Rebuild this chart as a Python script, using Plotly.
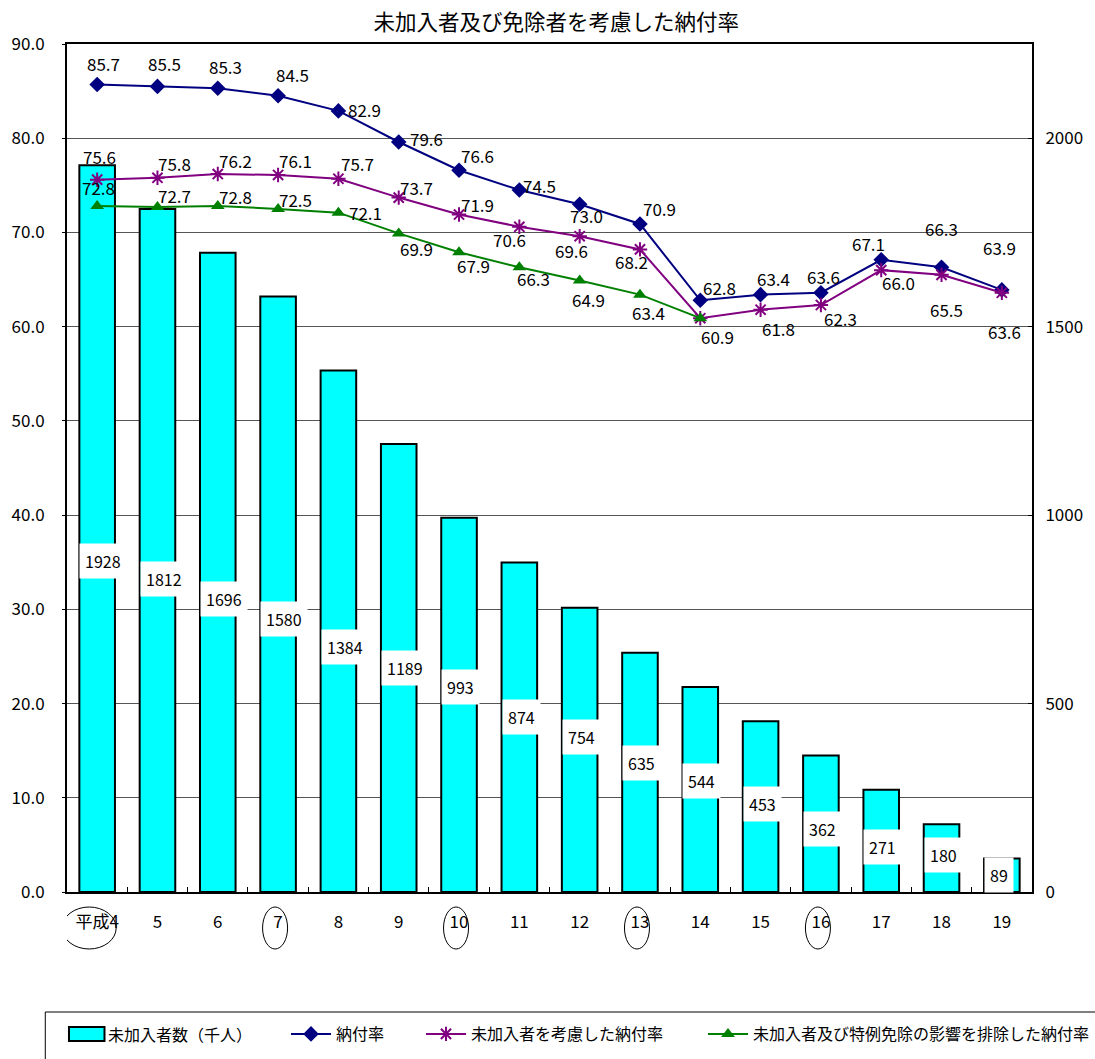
import plotly.graph_objects as go

# 年度（平成）
years = ["平成4", "5", "6", "7", "8", "9", "10", "11", "12", "13", "14", "15", "16", "17", "18", "19"]

# 未加入者数（千人）
unenrolled = [1928, 1812, 1696, 1580, 1384, 1189, 993, 874, 754, 635, 544, 453, 362, 271, 180, 89]

# 納付率
rate = [85.7, 85.5, 85.3, 84.5, 82.9, 79.6, 76.6, 74.5, 73.0, 70.9, 62.8, 63.4, 63.6, 67.1, 66.3, 63.9]

# 未加入者を考慮した納付率
rate_unenrolled = [75.6, 75.8, 76.2, 76.1, 75.7, 73.7, 71.9, 70.6, 69.6, 68.2, 60.9, 61.8, 62.3, 66.0, 65.5, 63.6]

# 未加入者及び特例免除の影響を排除した納付率
rate_excl = [72.8, 72.7, 72.8, 72.5, 72.1, 69.9, 67.9, 66.3, 64.9, 63.4, 60.9,
             None, None, None, None, None]

# 丸で囲む年度
circled = ["平成4", "7", "10", "13", "16"]

BAR_NAME = "未加入者数（千人）"

FONT = "Noto Sans CJK JP, sans-serif"

NAVY = "#000080"
PURPLE = "#800080"
GREEN = "#008000"
CYAN = "#00FFFF"

W, H = 1095, 1059
M_L, M_R, M_T, M_B = 66, 51, 44, 167
PLOT_W = W - M_L - M_R
PLOT_H = H - M_T - M_B


def paper_x(px):
    return (px - M_L) / PLOT_W


def paper_y(py):
    return (H - M_B - py) / PLOT_H


BAR_WIDTH = 0.59

# label placement (pixel offsets from each point)
rate_off = [(6, -21), (7, -23), (8, -22), (14, -21), (26, -1), (28, -3), (18, -15), (20, -5),
            (7, 11), (20, -15), (19, -13), (13, -16), (3, -16), (-13, -16), (0, -39), (-2, -42)]
unenr_off = [(2, -23), (17, -14), (18, -14), (17, -14), (19, -15), (18, -10), (18, -10), (-10, 13),
             (-8, 14), (-8, 12), (17, 18), (18, 19), (20, 13), (17, 12), (5, 35), (3, 39)]
excl_off = [(1, -19), (17, -12), (18, -10), (17, -9), (27, 0), (18, 15), (14, 13), (14, 11),
            (9, 19), (9, 18), (17, 18), None, None, None, None, None]
# vertical placement of the bar value boxes, as a fraction of each bar
bar_label_frac = [0.456, 0.458, 0.458, 0.458, 0.469, 0.499, 0.549, 0.532,
                  0.544, 0.54, 0.539, 0.517, 0.464, 0.443, 0.544, 0.506]

fig = go.Figure()

fig.add_trace(go.Bar(
    x=years, y=unenrolled, name=BAR_NAME,
    marker=dict(color=CYAN, line=dict(color="black", width=2)),
    width=BAR_WIDTH, yaxis="y", showlegend=False,
))

fig.add_trace(go.Scatter(
    x=years, y=rate, name="納付率", mode="lines+markers", yaxis="y2",
    line=dict(color=NAVY, width=2), legend="legend",
    marker=dict(symbol="diamond", size=12, color=NAVY),
))
fig.add_trace(go.Scatter(
    x=years, y=rate_unenrolled, name="未加入者を考慮した納付率", mode="lines+markers", yaxis="y2",
    line=dict(color=PURPLE, width=2), legend="legend2",
    marker=dict(symbol="asterisk-open", size=12, color=PURPLE, line=dict(color=PURPLE, width=2)),
))
fig.add_trace(go.Scatter(
    x=years, y=rate_excl, name="未加入者及び特例免除の影響を排除した納付率", mode="lines+markers", yaxis="y2",
    line=dict(color=GREEN, width=2), legend="legend3",
    marker=dict(symbol="triangle-up", size=12, color=GREEN),
))

annotations = []

# bar value boxes
for i, v in enumerate(unenrolled):
    annotations.append(dict(
        x=i - BAR_WIDTH / 2, y=v * bar_label_frac[i], xref="x", yref="y",
        text=str(v), showarrow=False, xanchor="left", yanchor="middle",
        bgcolor="white", borderpad=5,
        font=dict(family=FONT, size=16, color="black"),
    ))


# line value labels
def add_line_labels(values, offsets, skip=None):
    for i, v in enumerate(values):
        if v is None or offsets[i] is None:
            continue
        if skip is not None and skip[i] is not None and skip[i] == v:
            continue
        dx, dy = offsets[i]
        annotations.append(dict(
            x=i, y=v, xref="x", yref="y2", text=f"{v:.1f}", showarrow=False,
            xshift=dx, yshift=-dy, xanchor="center", yanchor="middle",
            font=dict(family=FONT, size=17, color="black"),
        ))


add_line_labels(rate, rate_off)
add_line_labels(rate_unenrolled, unenr_off, skip=rate_excl)
add_line_labels(rate_excl, excl_off)

# ellipses round the circled year labels
shapes = []
for c in circled:
    i = years.index(c)
    half = 27 if i == 0 else 12.5
    shift = -8 if i == 0 else -3
    shapes.append(dict(
        type="circle", xref="x", yref="paper",
        xsizemode="pixel", xanchor=i, x0=shift - half, x1=shift + half,
        ysizemode="pixel", yanchor=0, y0=-15, y1=-57,
        line=dict(color="black", width=1),
    ))

# legend frame (runs past the right and bottom edges)
LEG_TOP, LEG_ROW = 1012, 1034
shapes.append(dict(
    type="rect", xref="paper", yref="paper",
    x0=paper_x(44), x1=paper_x(W + 20), y0=paper_y(LEG_TOP), y1=paper_y(H + 20),
    line=dict(color="black", width=1), fillcolor="rgba(0,0,0,0)",
))
# bar swatch of the legend
shapes.append(dict(
    type="rect", xref="paper", yref="paper",
    x0=paper_x(68), x1=paper_x(104), y0=paper_y(LEG_ROW - 7), y1=paper_y(LEG_ROW + 7),
    line=dict(color="black", width=2), fillcolor=CYAN,
))
annotations.append(dict(
    x=paper_x(106), y=paper_y(LEG_ROW), xref="paper", yref="paper",
    text=BAR_NAME, showarrow=False, xanchor="left", yanchor="middle",
    font=dict(family=FONT, size=16, color="black"),
))


def legend_at(text_left):
    return dict(
        orientation="h", xref="container", yref="container",
        x=(text_left - 52) / W, y=1 - LEG_ROW / H, xanchor="left", yanchor="middle",
        bgcolor="rgba(0,0,0,0)", borderwidth=0,
        font=dict(family=FONT, size=16, color="black"),
        itemwidth=40,
    )


fig.update_layout(
    width=W, height=H,
    margin=dict(l=M_L, r=M_R, t=M_T, b=M_B),
    paper_bgcolor="white", plot_bgcolor="white",
    bargap=1 - BAR_WIDTH,
    title=dict(text="未加入者及び免除者を考慮した納付率", x=0.507, xref="paper",
               y=1 - 22 / H, yref="container", xanchor="center", yanchor="middle",
               font=dict(family=FONT, size=21.5, color="black")),
    xaxis=dict(
        type="category", range=[-0.5, len(years) - 0.5],
        showline=True, linecolor="black", linewidth=1.5, mirror=True,
        ticks="inside", tickson="boundaries", ticklen=5, tickcolor="black",
        tickangle=0, ticklabelstandoff=14,
        tickfont=dict(family=FONT, size=17, color="black"), showgrid=False,
    ),
    yaxis=dict(
        side="right", range=[0, 2250], tickvals=[0, 500, 1000, 1500, 2000],
        showgrid=False, showline=True, linecolor="black", linewidth=2,
        ticks="inside", ticklen=4, tickcolor="black", zeroline=False,
        ticklabelstandoff=8,
        tickfont=dict(family=FONT, size=17, color="black"),
    ),
    yaxis2=dict(
        overlaying="y", side="left", range=[0, 90], dtick=10, tickformat=".1f",
        showgrid=True, gridcolor="#555555", gridwidth=1,
        showline=True, linecolor="black", linewidth=2, zeroline=False,
        ticks="outside", ticklen=3, tickcolor="black", ticklabelstandoff=14,
        tickfont=dict(family=FONT, size=17, color="black"),
    ),
    legend=legend_at(338),
    legend2=legend_at(473),
    legend3=legend_at(755),
    annotations=annotations,
    shapes=shapes,
    showlegend=True,
)

fig.write_html("out.html")
